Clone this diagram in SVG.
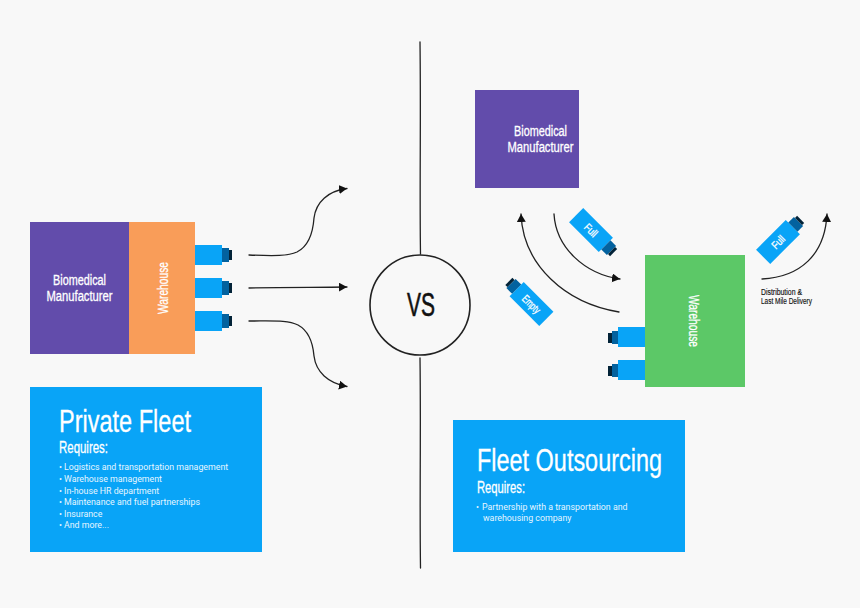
<svg xmlns="http://www.w3.org/2000/svg" width="860" height="608" viewBox="0 0 860 608">
<style>
.c{font-family:"Liberation Sans",Arial,sans-serif}
.w{fill:#fff;stroke:#fff;stroke-width:.3}
.l{font-family:Roboto,"Liberation Sans",sans-serif;font-size:8.800px;fill:#e6f6ff}
.m{text-anchor:middle;font-size:14px}
.s{fill:none;stroke:#222;stroke-width:1.300;stroke-linecap:round}
.b{fill:#09a4f7}.k{fill:#03629f}.d{fill:#032338}
</style>
<defs>
<marker id="a" markerUnits="userSpaceOnUse" markerWidth="9" markerHeight="10" refX="8" refY="4.5" orient="auto"><path d="M0 0L8 4.5L0 9Z" fill="#111"/></marker>
<g id="tr"><rect class="b" x="0" y="0" width="27" height="20"/><rect class="k" x="27" y="3" width="7" height="14"/><rect class="d" x="34" y="5" width="3" height="10"/></g>
<g id="tl"><rect class="b" x="-27" y="0" width="27" height="20"/><rect class="k" x="-33" y="4" width="6" height="13"/><rect class="d" x="-37" y="6" width="4" height="10"/></g>
<g id="td"><rect class="b" x="-21" y="-10" width="42" height="20"/><rect class="k" x="21" y="-6.500" width="8" height="13"/><rect class="d" x="29" y="-5" width="3" height="10"/></g>
</defs>
<rect width="860" height="608" fill="#f8f8f8"/>
<g id="connectors">
<path class="s" stroke-width="1.100" d="M420 42C421 120 419.500 190 420.500 254"/>
<path class="s" stroke-width="1.100" d="M420 358C421 430 419.500 500 420.500 568"/>
<path class="s" d="M249 255C275 256 288 256 297 252C309 246 313 232 314 218C316 202 328 191 347 188.500" marker-end="url(#a)"/>
<path class="s" d="M249 288C285 287 315 287.500 347 287" marker-end="url(#a)"/>
<path class="s" d="M249 321C275 321 288 320 298 325C309 331 313 344 314 356C316 372 328 383 347 386.500" marker-end="url(#a)"/>
<path class="s" d="M554 214C556 248 585 274 620 279" marker-end="url(#a)"/>
<path class="s" d="M619 312C565 303 523 265 521 214" marker-end="url(#a)"/>
<path class="s" d="M762 279C800 277 825 255 827 214" marker-end="url(#a)"/>
</g>
<g id="vs"><circle cx="420" cy="305" r="50" fill="none" stroke="#222" stroke-width="1.600"/>
<text class="c" x="407" y="316" font-size="33" fill="#111" stroke="#111" stroke-width=".6" textLength="28" lengthAdjust="spacingAndGlyphs">VS</text></g>
<g id="left-manufacturer"><rect x="30" y="222" width="99" height="132" fill="#624cab"/>
<text class="c w m" x="79.500" y="285" textLength="53" lengthAdjust="spacingAndGlyphs">Biomedical</text>
<text class="c w m" x="79.500" y="301" textLength="66" lengthAdjust="spacingAndGlyphs">Manufacturer</text></g>
<g id="left-warehouse"><rect x="129" y="222" width="66" height="132" fill="#f99d59"/>
<text class="c w m" transform="translate(168 288) rotate(-90)" textLength="52" lengthAdjust="spacingAndGlyphs">Warehouse</text></g>
<g id="left-trucks"><use href="#tr" x="195" y="245"/><use href="#tr" x="195" y="278"/><use href="#tr" x="195" y="311"/></g>
<g id="private-fleet"><rect x="30" y="387" width="232" height="165" class="b"/>
<text class="c w" x="59" y="432" font-size="32" textLength="132" lengthAdjust="spacingAndGlyphs">Private Fleet</text>
<text class="c w" x="59" y="453" font-size="16" textLength="49" lengthAdjust="spacingAndGlyphs">Requires:</text>
<text class="l" x="59" y="470">•</text><text class="l" x="64" y="470">Logistics and transportation management</text>
<text class="l" x="59" y="482">•</text><text class="l" x="64" y="482">Warehouse management</text>
<text class="l" x="59" y="493.500">•</text><text class="l" x="64" y="493.500">In-house HR department</text>
<text class="l" x="59" y="505">•</text><text class="l" x="64" y="505">Maintenance and fuel partnerships</text>
<text class="l" x="59" y="517">•</text><text class="l" x="64" y="517">Insurance</text>
<text class="l" x="59" y="528">•</text><text class="l" x="64" y="528">And more...</text></g>
<g id="right-manufacturer"><rect x="475" y="90" width="104" height="98" fill="#624cab"/>
<text class="c w m" x="540.500" y="136" textLength="53" lengthAdjust="spacingAndGlyphs">Biomedical</text>
<text class="c w m" x="540.500" y="152" textLength="66" lengthAdjust="spacingAndGlyphs">Manufacturer</text></g>
<g id="right-warehouse"><rect x="645" y="255" width="100" height="132" fill="#5cc867"/>
<text class="c w m" transform="translate(689 321) rotate(90)" textLength="52" lengthAdjust="spacingAndGlyphs">Warehouse</text></g>
<g id="right-trucks"><use href="#tl" x="645" y="327"/><use href="#tl" x="645" y="360"/></g>
<g id="truck-full-1" transform="translate(591 230) rotate(45)"><use href="#td"/><text class="c w" x="0" y="4" font-size="11" text-anchor="middle" textLength="14" lengthAdjust="spacingAndGlyphs">Full</text></g>
<g id="truck-empty" transform="translate(531.500 304) rotate(225)"><use href="#td"/><text class="c w" transform="rotate(180)" x="0" y="4" font-size="11" text-anchor="middle" textLength="21" lengthAdjust="spacingAndGlyphs">Empty</text></g>
<g id="truck-full-2" transform="translate(778 242) rotate(-45)"><use href="#td"/><text class="c w" x="0" y="4" font-size="11" text-anchor="middle" textLength="14" lengthAdjust="spacingAndGlyphs">Full</text></g>
<g id="delivery-label"><text class="c" x="761" y="295" font-size="8.500" fill="#111" stroke="#111" stroke-width=".15" textLength="41" lengthAdjust="spacingAndGlyphs">Distribution &amp;</text>
<text class="c" x="761" y="304" font-size="8.500" fill="#111" stroke="#111" stroke-width=".15" textLength="51" lengthAdjust="spacingAndGlyphs">Last Mile Delivery</text></g>
<g id="fleet-outsourcing"><rect x="453" y="420" width="232" height="132" class="b"/>
<text class="c w" x="477" y="471" font-size="32" textLength="185" lengthAdjust="spacingAndGlyphs">Fleet Outsourcing</text>
<text class="c w" x="477" y="493" font-size="16" textLength="48" lengthAdjust="spacingAndGlyphs">Requires:</text>
<text class="l" x="476" y="510">•</text><text class="l" x="482" y="510">Partnership with a transportation and</text>
<text class="l" x="483" y="520.500">warehousing company</text></g>
</svg>
